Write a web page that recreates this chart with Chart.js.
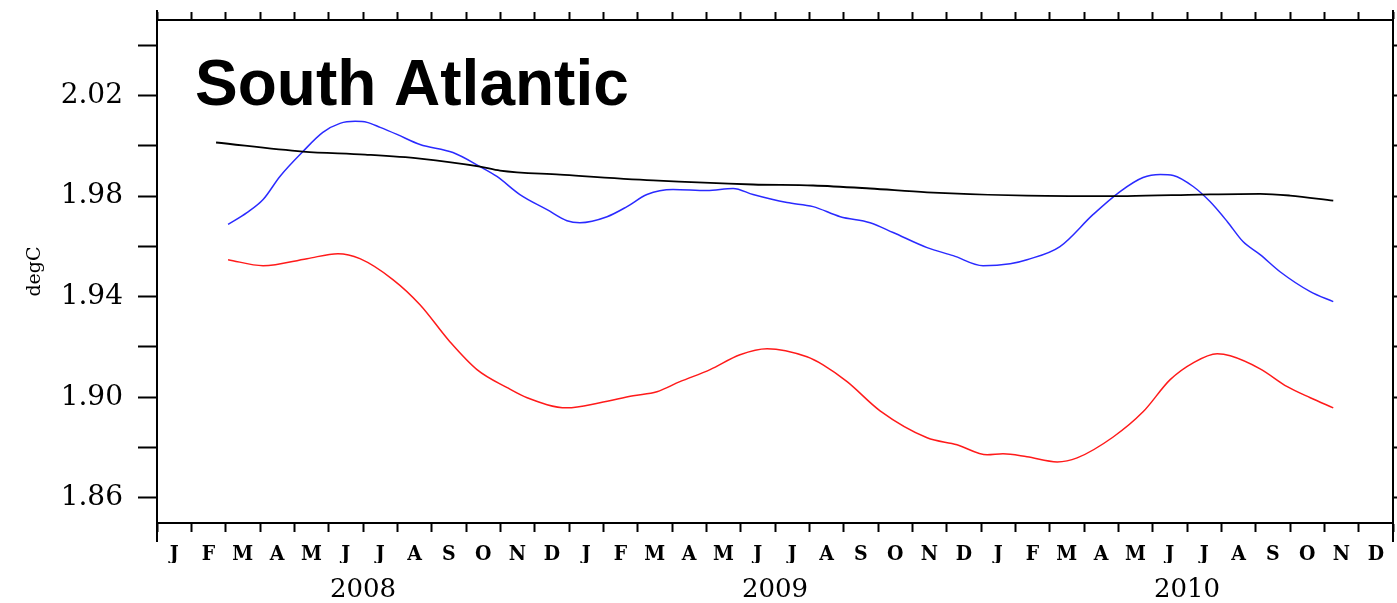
<!DOCTYPE html>
<html>
<head>
<meta charset="utf-8">
<script src="https://cdn.jsdelivr.net/npm/chart.js@4.4.1/dist/chart.umd.min.js"></script>
<style>
  html, body { margin: 0; padding: 0; background: #fff; }
  canvas { display: block; }
</style>
</head>
<body>
<canvas id="saChart" width="1397" height="603"></canvas>
<script>
// x = months since 1 Jan 2008
var MONTH_LETTERS = ['J', 'F', 'M', 'A', 'M', 'J', 'J', 'A', 'S', 'O', 'N', 'D'];
var YEAR_TICKS = [6, 18, 30];
var YEAR_LABELS = ['2008', '2009', '2010'];
var Y_TICKS = [1.86, 1.88, 1.90, 1.92, 1.94, 1.96, 1.98, 2.00, 2.02, 2.04];
var Y_LABELED = ['1.86', '1.90', '1.94', '1.98', '2.02'];
var TITLE = 'South Atlantic';
var Y_TITLE = 'degC';

var blackMonths = [1.72, 4.25, 6.06, 7.66, 9.41, 9.99, 11.74, 14.45, 17.36, 19.11, 20.77, 22.43, 25.34, 28.26, 30.38, 32.13, 33.0, 34.26];
var blackValues = [2.0013, 1.9977, 1.9965, 1.9949, 1.9917, 1.9901, 1.9885, 1.9862, 1.9846, 1.9842, 1.9830, 1.9815, 1.9802, 1.9800, 1.9806, 1.9809, 1.9802, 1.9782];

var blueMonths = [2.07, 2.62, 3.09, 3.58, 4.25, 4.83, 5.33, 5.77, 6.12, 6.50, 6.99, 7.66, 8.62, 9.41, 9.90, 10.57, 11.36, 11.94, 12.32, 13.11, 13.69, 14.27, 15.03, 16.02, 16.78, 17.36, 18.35, 19.11, 19.90, 20.77, 21.44, 22.43, 23.19, 24.06, 24.85, 25.34, 26.30, 27.26, 28.05, 28.72, 29.22, 29.60, 30.18, 30.67, 31.17, 31.63, 32.13, 32.71, 33.59, 34.26];
var blueValues = [1.9687, 1.9734, 1.9786, 1.9878, 1.9977, 2.0053, 2.0089, 2.0097, 2.0093, 2.0073, 2.0045, 2.0005, 1.9973, 1.9917, 1.9878, 1.9806, 1.9746, 1.9702, 1.9694, 1.9718, 1.9758, 1.9806, 1.9826, 1.9822, 1.9830, 1.9806, 1.9774, 1.9758, 1.9718, 1.9694, 1.9655, 1.9595, 1.9563, 1.9523, 1.9531, 1.9547, 1.9599, 1.9726, 1.9818, 1.9874, 1.9886, 1.9882, 1.9838, 1.9778, 1.9699, 1.9619, 1.9567, 1.9499, 1.9420, 1.9380];

var redMonths = [2.07, 3.09, 4.37, 5.27, 5.91, 6.87, 7.66, 8.53, 9.32, 10.20, 10.78, 11.94, 12.90, 13.87, 14.56, 15.23, 16.11, 16.98, 17.77, 18.93, 19.40, 20.10, 21.06, 22.43, 23.30, 24.18, 24.64, 25.34, 26.22, 26.80, 27.85, 28.72, 29.51, 30.18, 30.88, 31.26, 32.13, 32.92, 33.59, 34.26];
var redValues = [1.9547, 1.9523, 1.9551, 1.9571, 1.9551, 1.9468, 1.9368, 1.9221, 1.9110, 1.9038, 1.8998, 1.8958, 1.8978, 1.9006, 1.9022, 1.9062, 1.9110, 1.9169, 1.9193, 1.9161, 1.9129, 1.9062, 1.8946, 1.8839, 1.8811, 1.8771, 1.8775, 1.8763, 1.8743, 1.8759, 1.8842, 1.8942, 1.9070, 1.9137, 1.9173, 1.9165, 1.9113, 1.9042, 1.8998, 1.8958];

var SERIF = '"DejaVu Serif", "Liberation Serif", serif';

function toPoints(xs, ys) {
    return xs.map(function (x, i) { return { x: x, y: ys[i] }; });
}

function lineSet(xs, ys, color, width) {
    return {
        data: toPoints(xs, ys),
        borderColor: color,
        borderWidth: width,
        pointRadius: 0,
        fill: false,
        cubicInterpolationMode: 'monotone'
    };
}

function monthTickColor(ctx) {
    return (ctx.tick && Math.abs(ctx.tick.value % 1) < 0.01) ? '#000' : 'rgba(0,0,0,0)';
}

// fixed box sizes so the plot frame sits where it does in the original
function fixSize(prop, size) {
    return function (s) {
        s[prop] = size;
        s.paddingLeft = 0; s.paddingRight = 0; s.paddingTop = 0; s.paddingBottom = 0;
    };
}

function yTicksFromList(s) {
    s.ticks = Y_TICKS.map(function (v) { return { value: v }; });
}

var framePlugin = {
    id: 'frame',
    afterDraw: function (chart) {
        var ctx = chart.ctx, a = chart.chartArea;
        ctx.save();
        ctx.strokeStyle = '#000';
        ctx.lineWidth = 2;
        ctx.beginPath();
        ctx.moveTo(a.left, a.top - 10); ctx.lineTo(a.left, a.bottom + 19);
        ctx.moveTo(a.right, a.top - 10); ctx.lineTo(a.right, a.bottom + 19);
        ctx.stroke();
        ctx.fillStyle = '#000';
        ctx.font = 'bold 64px "Liberation Sans", Arial, sans-serif';
        ctx.textBaseline = 'alphabetic';
        ctx.fillText(TITLE, a.left + 38, a.top + 85);
        ctx.restore();
    }
};

var xBase = {
    type: 'linear',
    min: 0,
    max: 36,
    border: { display: true, color: '#000', width: 2 }
};

new Chart(document.getElementById('saChart').getContext('2d'), {
    type: 'line',
    data: {
        datasets: [
            lineSet(blackMonths, blackValues, '#000000', 1.8),
            lineSet(blueMonths, blueValues, '#2a2aff', 1.5),
            lineSet(redMonths, redValues, '#ff1a1a', 1.5)
        ]
    },
    plugins: [framePlugin],
    options: {
        responsive: false,
        animation: false,
        devicePixelRatio: 1,
        layout: { padding: 0 },
        plugins: {
            legend: { display: false },
            tooltip: { enabled: false },
            title: { display: false }
        },
        scales: {
            x: Object.assign({}, xBase, {
                position: 'bottom',
                weight: 0,
                afterFit: fixSize('height', 40),
                grid: { drawOnChartArea: false, drawTicks: true, tickLength: 9, tickWidth: 2, tickColor: monthTickColor },
                ticks: {
                    stepSize: 0.5,
                    maxTicksLimit: 100,
                    autoSkip: false,
                    maxRotation: 0,
                    padding: 10,
                    color: '#000',
                    font: { family: '"DejaVu Serif Condensed", ' + SERIF, size: 21, weight: 'bold' },
                    callback: function (v) {
                        return Math.abs(v % 1 - 0.5) < 0.01 ? MONTH_LETTERS[Math.floor(v) % 12] : '';
                    }
                }
            }),
            xYear: Object.assign({}, xBase, {
                position: 'bottom',
                weight: 1,
                border: { display: false },
                afterFit: fixSize('height', 40),
                afterBuildTicks: function (s) {
                    s.ticks = YEAR_TICKS.map(function (v) { return { value: v }; });
                },
                grid: { display: false, drawTicks: false, drawOnChartArea: false },
                ticks: {
                    autoSkip: false,
                    maxRotation: 0,
                    padding: 12,
                    color: '#000',
                    font: { family: SERIF, size: 26 },
                    callback: function (v, i) { return YEAR_LABELS[i]; }
                }
            }),
            xTop: Object.assign({}, xBase, {
                position: 'top',
                afterFit: fixSize('height', 20),
                grid: { drawOnChartArea: false, drawTicks: true, tickLength: 8, tickWidth: 2, tickColor: monthTickColor },
                ticks: { display: false, stepSize: 0.5, maxTicksLimit: 100, autoSkip: false }
            }),
            y: {
                type: 'linear',
                position: 'left',
                min: 1.85,
                max: 2.05,
                afterBuildTicks: yTicksFromList,
                afterFit: fixSize('width', 157),
                border: { display: true, color: '#000', width: 2 },
                grid: { drawOnChartArea: false, drawTicks: true, tickLength: 19, tickWidth: 2, tickColor: '#000' },
                title: {
                    display: true,
                    text: Y_TITLE,
                    color: '#000',
                    font: { family: SERIF, size: 19 },
                    padding: { top: 24, bottom: 0 }
                },
                ticks: {
                    autoSkip: false,
                    padding: 15,
                    color: '#000',
                    font: { family: SERIF, size: 28 },
                    callback: function (v) {
                        var s = v.toFixed(2);
                        return Y_LABELED.indexOf(s) >= 0 ? s : '';
                    }
                }
            },
            yRight: {
                type: 'linear',
                position: 'right',
                min: 1.85,
                max: 2.05,
                afterBuildTicks: yTicksFromList,
                afterFit: fixSize('width', 4),
                border: { display: true, color: '#000', width: 2 },
                grid: { drawOnChartArea: false, drawTicks: true, tickLength: 8, tickWidth: 2, tickColor: '#000' },
                ticks: { display: false }
            }
        }
    }
});
</script>
</body>
</html>
